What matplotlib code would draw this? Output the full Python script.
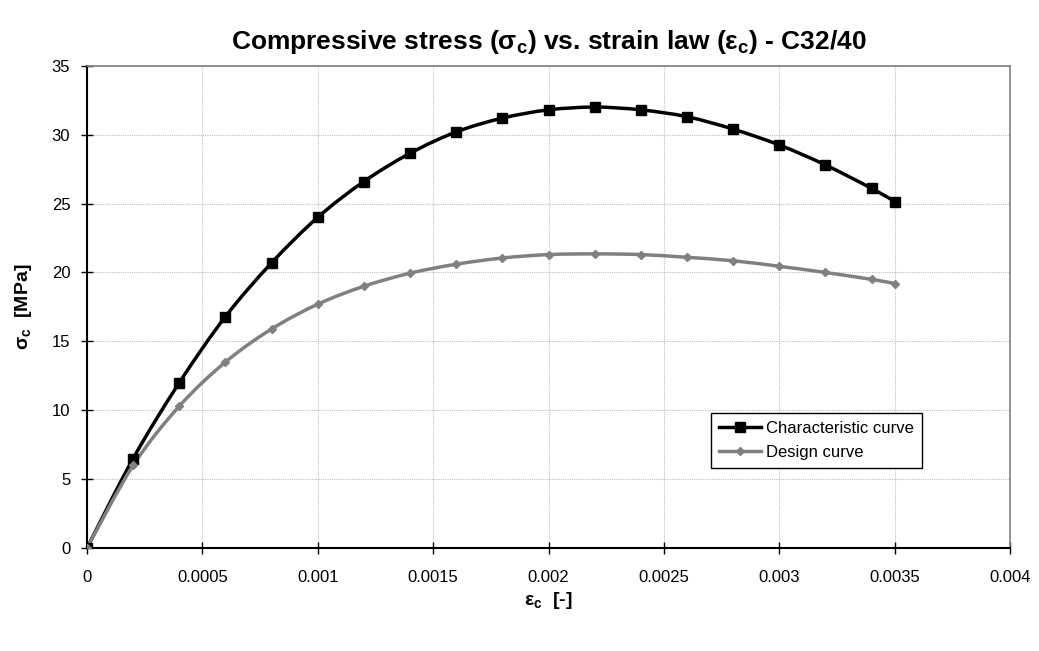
import matplotlib
matplotlib.use("Agg")
import matplotlib.pyplot as plt
from matplotlib.ticker import MultipleLocator
from matplotlib.path import Path
from matplotlib.patches import PathPatch
from matplotlib.lines import Line2D

plt.rcParams['font.family'] = ['Liberation Sans', 'DejaVu Sans']
plt.rcParams['mathtext.fontset'] = 'custom'
plt.rcParams['mathtext.rm'] = 'Liberation Sans'
plt.rcParams['mathtext.bf'] = 'Liberation Sans:bold'
plt.rcParams['mathtext.it'] = 'Liberation Sans:italic'

strain = [0, 0.0002, 0.0004, 0.0006, 0.0008, 0.001, 0.0012, 0.0014, 0.0016,
          0.0018, 0.002, 0.0022, 0.0024, 0.0026, 0.0028, 0.003, 0.0032,
          0.0034, 0.0035]
characteristic = [0, 6.5, 12.0, 16.8, 20.7, 24.0, 26.6, 28.65, 30.2, 31.2,
                  31.8, 32.0, 31.8, 31.3, 30.4, 29.25, 27.8, 26.1, 25.15]
design = [0, 6.0, 10.3, 13.5, 15.9, 17.7, 19.0, 19.95, 20.6, 21.05, 21.3,
          21.35, 21.3, 21.1, 20.85, 20.45, 20.0, 19.5, 19.2]
x_ticks = [0, 0.0005, 0.001, 0.0015, 0.002, 0.0025, 0.003, 0.0035, 0.004]
x_tick_labels = ['0', '0.0005', '0.001', '0.0015', '0.002', '0.0025', '0.003', '0.0035', '0.004']


def smooth_path(xs, ys):
    # Bezier (Catmull-Rom style) path through the data points, like a spreadsheet "smoothed line"
    n = len(xs)
    verts = [(xs[0], ys[0])]
    codes = [Path.MOVETO]
    for i in range(n - 1):
        x0, y0 = (xs[i - 1], ys[i - 1]) if i > 0 else (xs[i], ys[i])
        x1, y1 = xs[i], ys[i]
        x2, y2 = xs[i + 1], ys[i + 1]
        x3, y3 = (xs[i + 2], ys[i + 2]) if i + 2 < n else (xs[i + 1], ys[i + 1])
        c1 = (x1 + (x2 - x0) / 6, y1 + (y2 - y0) / 6)
        c2 = (x2 - (x3 - x1) / 6, y2 - (y3 - y1) / 6)
        verts += [c1, c2, (x2, y2)]
        codes += [Path.CURVE4] * 3
    return Path(verts, codes)


fig = plt.figure(figsize=(10.39, 6.51), dpi=100)
ax = fig.add_axes([0.0837, 0.158, 0.8885, 0.741])

black = 'black'
gray = '#808080'
ax.add_patch(PathPatch(smooth_path(strain, characteristic), fill=False,
                       edgecolor=black, lw=2.5, zorder=3, capstyle='round'))
ax.plot(strain, characteristic, ls='none', color=black, marker='s', ms=7, zorder=4)
ax.add_patch(PathPatch(smooth_path(strain, design), fill=False,
                       edgecolor=gray, lw=2.5, zorder=3, capstyle='round'))
ax.plot(strain, design, ls='none', color=gray, marker='D', ms=4.5, zorder=4)

ax.set_xlim(0, 0.004)
ax.set_ylim(0, 35)
ax.set_xticks(x_ticks)
ax.set_xticklabels(x_tick_labels)
ax.yaxis.set_major_locator(MultipleLocator(5))
ax.tick_params(labelsize=12, colors='black', width=1)
ax.tick_params(axis='x', direction='inout', length=8, pad=12)
ax.tick_params(axis='y', direction='inout', length=8, pad=8)

ax.grid(True, color='#c0c0c0', lw=0.8, ls=(0, (1, 1)))
ax.set_axisbelow(True)
for s in ['top', 'right']:
    ax.spines[s].set_color('#808080')
    ax.spines[s].set_linewidth(1.2)
for s in ['left', 'bottom']:
    ax.spines[s].set_color('black')
    ax.spines[s].set_linewidth(1.5)

ax.set_title(r'Compressive stress (σ$_\mathbf{c}$) vs. strain law (ε$_\mathbf{c}$) - C32/40',
             fontsize=19, fontweight='bold', pad=12)
ax.set_xlabel(r'ε$_\mathbf{c}$  [-]', fontsize=14, fontweight='bold', labelpad=3)
ax.set_ylabel(r'σ$_\mathbf{c}$  [MPa]', fontsize=14, fontweight='bold', labelpad=13)

handles = [Line2D([], [], color=black, lw=2.5, marker='s', ms=7),
           Line2D([], [], color=gray, lw=2.5, marker='D', ms=4.5)]
leg = ax.legend(handles, ['Characteristic curve', 'Design curve'],
                loc='lower left', bbox_to_anchor=(0.667, 0.149), fontsize=12,
                frameon=True, fancybox=False, edgecolor='black', framealpha=1,
                handlelength=2.5, handletextpad=0.3, borderpad=0.5, labelspacing=0.5)
leg.get_frame().set_linewidth(1.0)

fig.savefig('out.png', dpi=100, facecolor='white')
